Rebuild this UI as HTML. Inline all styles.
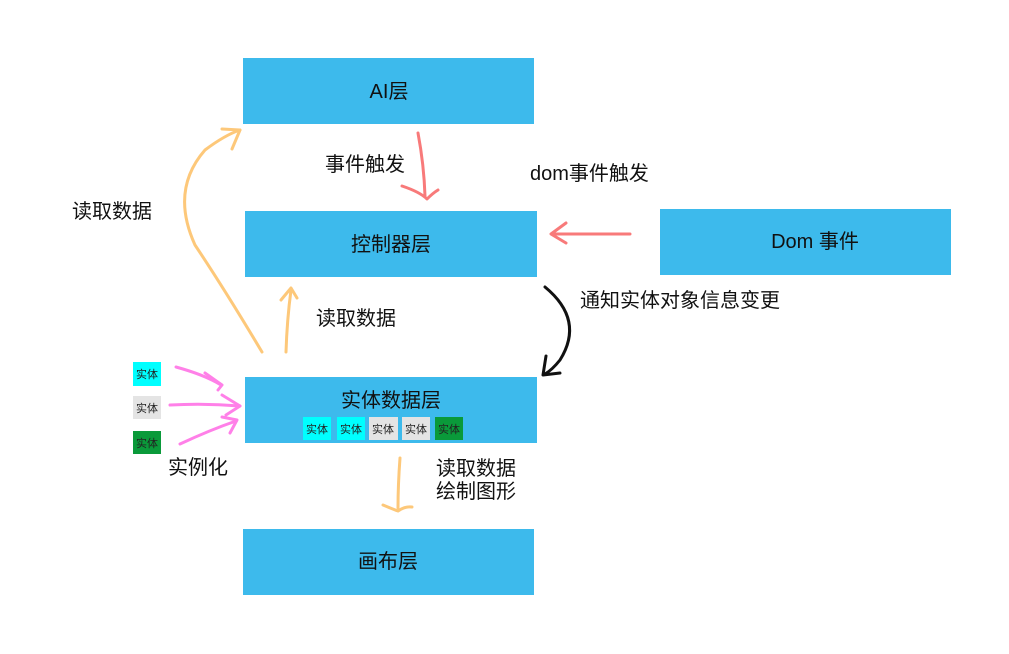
<!DOCTYPE html>
<html><head><meta charset="utf-8"><style>
body{margin:0;background:#fff;}
svg{display:block;font-family:"Liberation Sans","Noto Sans CJK SC",sans-serif;}
</style></head><body>
<svg width="1009" height="654" viewBox="0 0 1009 654">
<rect width="1009" height="654" fill="#fff"/>
<g fill="#3dbaec">
<rect x="243" y="58" width="291" height="66"/>
<rect x="245" y="211" width="292" height="66"/>
<rect x="660" y="209" width="291" height="66"/>
<rect x="245" y="377" width="292" height="66"/>
<rect x="243" y="529" width="291" height="66"/>
</g>
<g font-size="20" fill="#111" text-anchor="middle">
<text x="389" y="98">AI层</text>
<text x="391" y="251">控制器层</text>
<text x="815" y="248">Dom 事件</text>
<text x="391" y="407">实体数据层</text>
<text x="388" y="568">画布层</text>
</g>
<g font-size="20" fill="#111">
<text x="325" y="171">事件触发</text>
<text x="530" y="180">dom事件触发</text>
<text x="72" y="218">读取数据</text>
<text x="316" y="325">读取数据</text>
<text x="580" y="307">通知实体对象信息变更</text>
<text x="168" y="474">实例化</text>
<text x="436" y="475">读取数据</text>
<text x="436" y="498">绘制图形</text>
</g>
<g font-size="11" text-anchor="middle" fill="#222">
<rect x="303" y="417" width="28" height="23" fill="#00ffff"/><text x="317" y="433">实体</text>
<rect x="337" y="417" width="28" height="23" fill="#00ffff"/><text x="351" y="433">实体</text>
<rect x="369" y="417" width="29" height="23" fill="#e4e4e4"/><text x="383" y="433">实体</text>
<rect x="402" y="417" width="28" height="23" fill="#e4e4e4"/><text x="416" y="433">实体</text>
<rect x="435" y="417" width="28" height="23" fill="#0a9a3a"/><text x="449" y="433">实体</text>
<rect x="133" y="362" width="28" height="24" fill="#00ffff"/><text x="147" y="378">实体</text>
<rect x="133" y="396" width="28" height="23" fill="#e4e4e4"/><text x="147" y="412">实体</text>
<rect x="133" y="431" width="28" height="23" fill="#0a9a3a"/><text x="147" y="447">实体</text>
</g>
<g fill="none" stroke-linecap="round" stroke-linejoin="round" stroke-width="3">
<path d="M418 133 Q424 165 425 196" stroke="#f87a7a"/>
<path d="M402 186 Q420 192 427 199 Q433 193 438 190" stroke="#f87a7a"/>
<path d="M630 234 L553 234" stroke="#f87a7a"/>
<path d="M566 223 L551 234 L566 243" stroke="#f87a7a"/>
<path d="M262 352 Q225 290 195 245 Q170 190 205 150 Q225 135 240 130" stroke="#fdc87a"/>
<path d="M222 129 L240 130 L232 149" stroke="#fdc87a"/>
<path d="M286 352 Q287 320 291 290" stroke="#fdc87a"/>
<path d="M281 300 L291 288 L297 298" stroke="#fdc87a"/>
<path d="M400 458 Q398 485 398 508" stroke="#fdc87a"/>
<path d="M383 505 Q395 510 398 511 Q405 506 412 507" stroke="#fdc87a"/>
<path d="M545 287 Q585 320 560 360 Q552 370 545 374" stroke="#111"/>
<path d="M546 356 L543 375 L560 373" stroke="#111"/>
<path d="M176 367 Q205 375 221 385" stroke="#ff80e8"/>
<path d="M205 373 L222 385 L218 390" stroke="#ff80e8"/>
<path d="M170 405 Q205 403 240 406" stroke="#ff80e8"/>
<path d="M222 395 L240 406 L226 415" stroke="#ff80e8"/>
<path d="M180 444 Q210 430 236 421" stroke="#ff80e8"/>
<path d="M222 417 L237 420 L230 433" stroke="#ff80e8"/>
</g>
</svg>
</body></html>
